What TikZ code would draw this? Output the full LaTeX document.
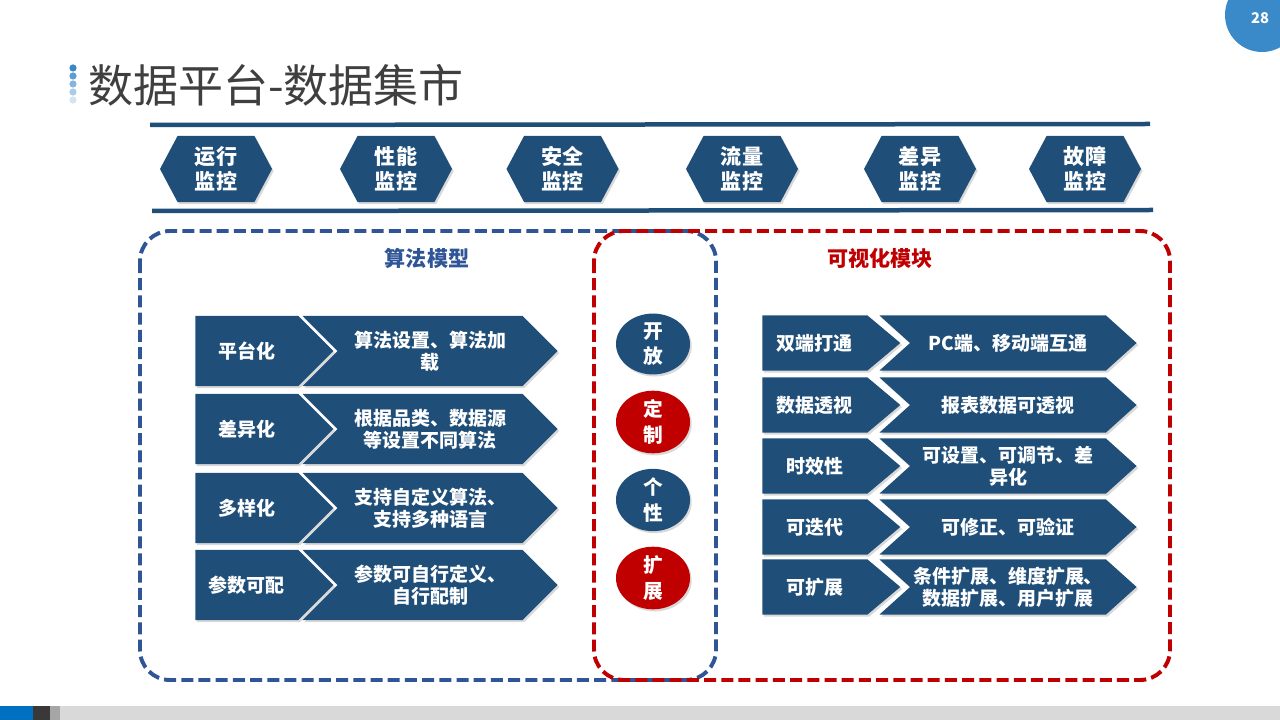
\documentclass[tikz,border=0pt]{standalone}
\usepackage{fontspec}
\setmainfont{Noto Sans CJK SC}
\usetikzlibrary{shapes.symbols, shapes.geometric, shadows, positioning}
\definecolor{navy}{HTML}{1F4E79}
\definecolor{dashblue}{HTML}{2F5597}
\definecolor{darkred}{HTML}{C00000}
\definecolor{pageblue}{HTML}{3A89C9}
\definecolor{titlegray}{HTML}{3F3F3F}
\definecolor{footblue}{HTML}{0070C0}
\definecolor{footdark}{HTML}{3A3838}
\definecolor{footmid}{HTML}{A6A6A6}
\definecolor{footlight}{HTML}{D9D9D9}

\begin{document}
\begin{tikzpicture}[x=0.025cm, y=-0.025cm,
  shade/.style={drop shadow={shadow xshift=1.2pt, shadow yshift=-1.5pt, opacity=0.3}},
  hexa/.style={signal, signal to=east and west, signal pointer angle=124, fill=navy,
    minimum width=2.8cm, minimum height=1.65cm, inner sep=0pt, text=white, shade,
    font=\bfseries\fontsize{15}{18}\selectfont, align=center},
  tagl/.style={signal, signal to=east, signal pointer angle=90, fill=navy,
    minimum width=3.45cm, minimum height=1.75cm, inner sep=0pt, text=white, shade,
    font=\bfseries\fontsize{13.5}{15.5}\selectfont, align=center},
  descl/.style={signal, signal to=east, signal from=west, signal pointer angle=90, fill=navy,
    minimum width=6.375cm, minimum height=1.75cm, inner sep=0pt, text=white, shade,
    font=\bfseries\fontsize{13.5}{15.5}\selectfont, align=center},
  tagr/.style={tagl, signal pointer angle=80, minimum height=1.375cm},
  descr/.style={descl, signal pointer angle=84, minimum width=6.425cm, minimum height=1.375cm},
  pill/.style={ellipse, minimum width=1.85cm, minimum height=1.45cm, inner sep=0pt, text=white, shade,
    font=\bfseries\fontsize{14}{18}\selectfont, align=center},
  frame/.style={line width=2.8pt, dash pattern=on 0.3cm off 0.13cm, rounded corners=0.75cm},
  rule/.style={navy, line width=3.2pt}]
  \useasboundingbox (0,0) rectangle (1280,720);

  % header
  \foreach \y/\c in {68/3A87C8, 76/5C9DD4, 84/84B5DF, 92/AACCE9, 100/D2E3F1}{
    \definecolor{dotc}{HTML}{\c}
    \fill[dotc] (73,\y) circle (3.6);
  }
  \node[anchor=west, text=titlegray, font=\fontsize{32}{36}\selectfont, inner sep=0pt] (title) at (88,85) {数据平台-数据集市};
  \fill[pageblue] (1262,15) circle (37);
  \node[text=white, font=\bfseries\fontsize{10.5}{12}\selectfont] (page) at (1260,18) {28};

  % footer bar
  \fill[footblue] (0,706) rectangle (33,720);
  \fill[footdark] (33,706) rectangle (50,720);
  \fill[footmid] (50,706) rectangle (60,720);
  \fill[footlight] (60,706) rectangle (1280,720);

  % monitoring bar
  \draw[rule] (150,125) -- (1150,124);
  \draw[rule] (152,211) -- (1153,210);
  \node[hexa] (m1) at (216,169)   {运行\\监控};
  \node[hexa] (m2) at (396,169)   {性能\\监控};
  \node[hexa] (m3) at (562.5,169) {安全\\监控};
  \node[hexa] (m4) at (742,169)   {流量\\监控};
  \node[hexa] (m5) at (920,169)   {差异\\监控};
  \node[hexa] (m6) at (1085,169)  {故障\\监控};

  % frames
  \draw[frame, dashblue] (140,231) rectangle (716,680);
  \draw[frame, darkred] (594,231) rectangle (1170,680);
  \node[text=dashblue, font=\bfseries\fontsize{15}{18}\selectfont] (algo) at (427,258) {算法模型};
  \node[text=darkred, font=\bfseries\fontsize{15}{18}\selectfont] (visu) at (880,258) {可视化模块};

  % algorithm model rows
  \node[tagl, anchor=west] (a1) at (195,351) {平台化};
  \node[descl, anchor=east] (b1) at (558,351) {算法设置、算法加\\载};
  \node[tagl, anchor=west] (a2) at (195,429) {差异化};
  \node[descl, anchor=east] (b2) at (558,429) {根据品类、数据源\\等设置不同算法};
  \node[tagl, anchor=west] (a3) at (195,508) {多样化};
  \node[descl, anchor=east] (b3) at (558,508) {支持自定义算法、\\支持多种语言};
  \node[tagl, anchor=west] (a4) at (195,585) {参数可配};
  \node[descl, anchor=east] (b4) at (558,585) {参数可自行定义、\\自行配制};

  % middle pills
  \node[pill, fill=navy]    (p1) at (653,344) {开\\放};
  \node[pill, fill=darkred] (p2) at (653,422) {定\\制};
  \node[pill, fill=navy]    (p3) at (653,500) {个\\性};
  \node[pill, fill=darkred] (p4) at (653,578) {扩\\展};

  % visualisation rows
  \node[tagr, anchor=west] (c1) at (762,343) {双端打通};
  \node[descr, anchor=east] (d1) at (1137,343) {PC端、移动端互通};
  \node[tagr, anchor=west] (c2) at (762,405) {数据透视};
  \node[descr, anchor=east] (d2) at (1137,405) {报表数据可透视};
  \node[tagr, anchor=west] (c3) at (762,466) {时效性};
  \node[descr, anchor=east] (d3) at (1137,466) {可设置、可调节、差\\异化};
  \node[tagr, anchor=west] (c4) at (762,527) {可迭代};
  \node[descr, anchor=east] (d4) at (1137,527) {可修正、可验证};
  \node[tagr, anchor=west] (c5) at (762,587) {可扩展};
  \node[descr, anchor=east] (d5) at (1137,587) {条件扩展、维度扩展、\\数据扩展、用户扩展};
\end{tikzpicture}
\end{document}
